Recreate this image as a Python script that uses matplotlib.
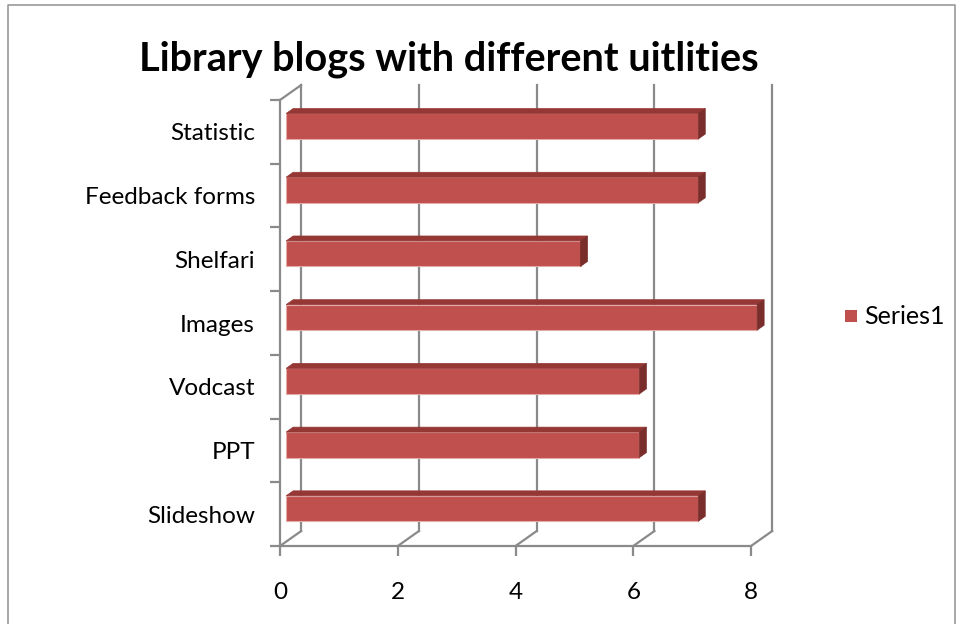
"""
Library blogs with different utilities - Excel style 3D clustered bar chart
"""
#%% Import libraries ###########################################################
import matplotlib.pyplot as plt
from matplotlib.patches import Polygon
from matplotlib.lines import Line2D

#%% Data #######################################################################
categories = ['Slideshow', 'PPT', 'Vodcast', 'Images', 'Shelfari',
              'Feedback forms', 'Statistic']
values = [7, 6, 6, 8, 5, 7, 7]
xticks = [0, 2, 4, 6, 8]
series_name = 'Series1'
title = 'Library blogs with different uitlities'

#%% Style ######################################################################
FONT = 'Lato'
GRID = '#8a8a8a'
FRONT = '#c0504d'
TOP = '#953735'
SIDE = '#7a2e2c'
DX, DY = 0.36, 0.235          # depth of the 3D box in data units
BAR_H = 0.40                   # height of bar front face (category units)
B0, B1 = 0.29, 0.62            # bar depth range as fraction of box depth

#%% Main #######################################################################
def main():
    W, H = 956, 624
    fig = plt.figure(figsize=(W / 100, H / 100), dpi=100)
    ax = fig.add_axes([280 / W, 1 - 546 / H, (751 - 280) / W, (546 - 100) / H])
    ax.set_xlim(0, 8)
    ax.set_ylim(-0.5, len(categories) - 0.5)
    ymin, ymax = -0.5, len(categories) - 0.5

    # back wall gridlines and floor diagonals
    for xv in xticks:
        ax.plot([xv + DX, xv + DX], [ymin + DY, ymax + DY], color=GRID, lw=1.6,
                clip_on=False, zorder=1)
        ax.plot([xv, xv + DX], [ymin, ymin + DY], color=GRID, lw=1.6,
                clip_on=False, zorder=1)
    # left wall top edge
    ax.plot([0, DX], [ymax, ymax + DY], color=GRID, lw=1.6, clip_on=False, zorder=1)

    # bars
    for i, v in enumerate(values):
        x0 = B0 * DX
        y0 = i - BAR_H / 2 + B0 * DY + 0.02
        ddx = (B1 - B0) * DX
        ddy = (B1 - B0) * DY
        front = Polygon([(x0, y0), (x0 + v, y0), (x0 + v, y0 + BAR_H), (x0, y0 + BAR_H)],
                        closed=True, facecolor=FRONT, edgecolor='#e3aaa8', lw=0.8,
                        zorder=3, clip_on=False)
        top = Polygon([(x0, y0 + BAR_H), (x0 + v, y0 + BAR_H),
                       (x0 + v + ddx, y0 + BAR_H + ddy), (x0 + ddx, y0 + BAR_H + ddy)],
                      closed=True, facecolor=TOP, edgecolor=TOP, lw=0.5, zorder=3,
                      clip_on=False)
        side = Polygon([(x0 + v, y0), (x0 + v + ddx, y0 + ddy),
                        (x0 + v + ddx, y0 + BAR_H + ddy), (x0 + v, y0 + BAR_H)],
                       closed=True, facecolor=SIDE, edgecolor=SIDE, lw=0.5, zorder=3,
                       clip_on=False)
        for p in (front, top, side):
            ax.add_patch(p)

    # axes: spines and ticks
    for s in ('top', 'right'):
        ax.spines[s].set_visible(False)
    for s in ('left', 'bottom'):
        ax.spines[s].set_color(GRID)
        ax.spines[s].set_linewidth(1.6)
        ax.spines[s].set_zorder(1)
    ax.set_xticks(xticks)
    ax.set_xticklabels([str(t) for t in xticks], fontsize=17.5, family=FONT)
    ax.tick_params(axis='x', length=7, width=1.6, color=GRID, pad=19)
    ax.set_yticks(range(len(categories)))
    ax.set_yticklabels(categories, fontsize=17.5, family=FONT)
    ax.set_yticks([k - 0.5 for k in range(len(categories) + 1)], minor=True)
    ax.tick_params(axis='y', which='major', length=0, pad=18)
    ax.tick_params(axis='y', which='minor', length=7, width=1.6, color=GRID)
    ax.set_facecolor('none')

    # title
    fig.text(449 / W, 1 - 59 / H, title, ha='center', va='center', fontsize=28.5,
             fontweight='bold', family=FONT)

    # legend
    fig.patches.append(plt.Rectangle((845 / W, 1 - 322 / H), 12 / W, 12 / H,
                                     transform=fig.transFigure, facecolor=FRONT,
                                     edgecolor='none'))
    fig.text(864 / W, 1 - 316 / H, series_name, ha='left', va='center',
             fontsize=18, family=FONT)

    # outer chart border
    fig.lines.append(Line2D([8 / W, 8 / W, 955 / W, 955 / W], [0, 1 - 5 / H, 1 - 5 / H, 0],
                            transform=fig.transFigure, color='#9a9a9a', lw=1.2))

    fig.savefig('out.png', dpi=100)

#%% Run main ###################################################################
if __name__ == '__main__':
    main()
